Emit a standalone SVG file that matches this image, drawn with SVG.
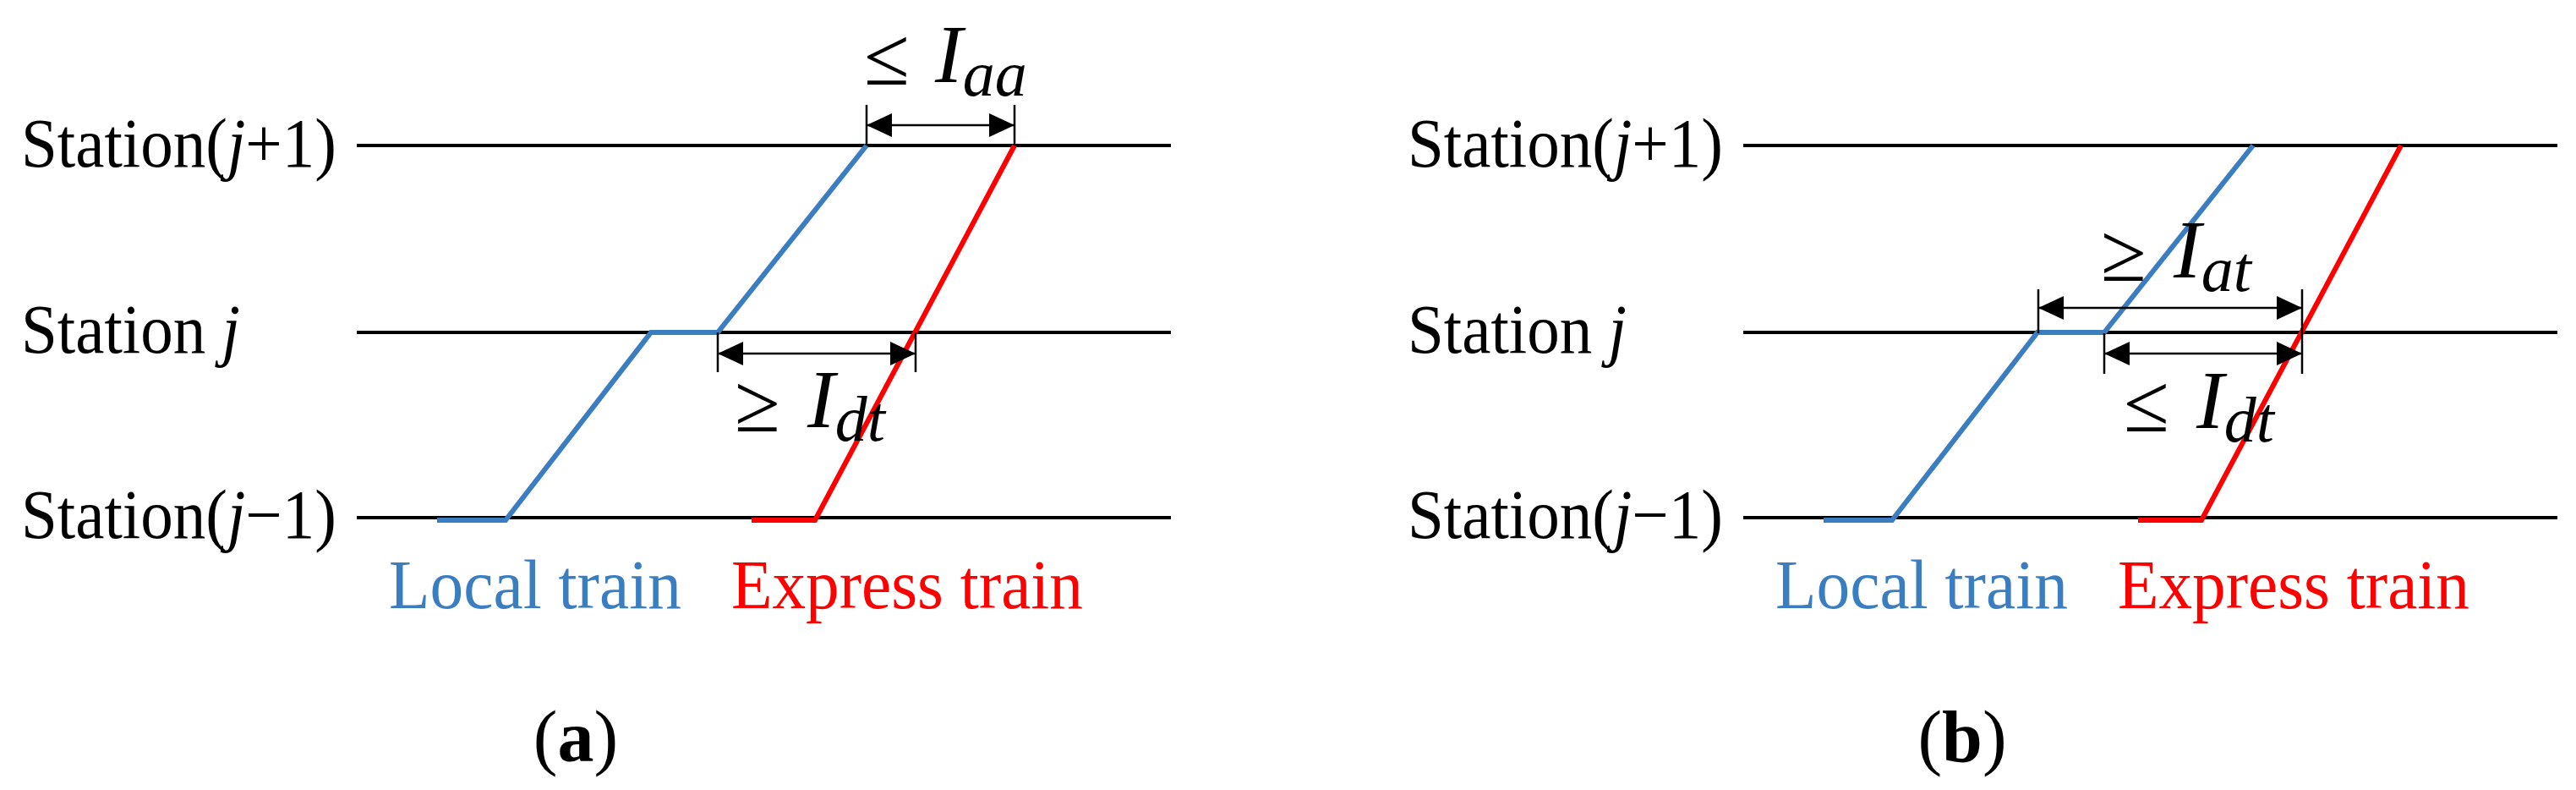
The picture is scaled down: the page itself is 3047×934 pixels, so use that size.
<svg xmlns="http://www.w3.org/2000/svg" width="3047" height="934" viewBox="0 0 3047 934">
<style>
.bg{fill:#ffffff}
.st{stroke:#000;stroke-width:4;fill:none}
.loc{stroke:#3B7DC1;stroke-width:6;fill:none;stroke-linejoin:miter}
.exp{stroke:#FF0000;stroke-width:6;fill:none;stroke-linejoin:miter}
.tick{stroke:#000;stroke-width:2.5;fill:none}
.dim{stroke:#000;stroke-width:2.5;fill:none;marker-start:url(#ah);marker-end:url(#ah)}
.lbl{font-family:"Liberation Serif","Times New Roman",serif;font-size:82px;fill:#000}
.it{font-style:italic}
.leg{font-family:"Liberation Serif","Times New Roman",serif;font-size:82px}
.lb{fill:#3B7DC1}
.lr{fill:#FF0000}
.rel{font-family:"Liberation Serif","Times New Roman",serif;font-size:98px;fill:#000}
.mi{font-family:"Liberation Serif","Times New Roman",serif;font-size:98px;font-style:italic;fill:#000}
.sub{font-size:76px}
.cap{font-family:"Liberation Serif","Times New Roman",serif;font-size:86px;fill:#000}
</style>
<defs>
<marker id="ah" viewBox="0 0 30 28" refX="30" refY="14" markerWidth="30" markerHeight="28" markerUnits="userSpaceOnUse" orient="auto-start-reverse">
<path d="M0,0 L30,14 L0,28 Z" fill="#000"/>
</marker>
</defs>
<rect class="bg" x="0" y="0" width="3047" height="934"/>

<!-- Panel (a) -->
<g id="panel-a">
  <g id="a-stations">
    <g id="a-station-j1"><line class="st" x1="422" y1="172" x2="1385" y2="172"/><text class="lbl" x="25" y="197" textLength="373" lengthAdjust="spacingAndGlyphs">Station(<tspan class="it">j</tspan>+1)</text></g>
    <g id="a-station-j"><line class="st" x1="422" y1="393" x2="1385" y2="393"/><text class="lbl" x="25" y="417" textLength="259" lengthAdjust="spacingAndGlyphs">Station <tspan class="it">j</tspan></text></g>
    <g id="a-station-j0"><line class="st" x1="422" y1="612" x2="1385" y2="612"/><text class="lbl" x="25" y="636" textLength="373" lengthAdjust="spacingAndGlyphs">Station(<tspan class="it">j</tspan>−1)</text></g>
  </g>
  <g id="a-local-train"><polyline class="loc" points="517,615 598,615 770,393 849,393 1025,172"/></g>
  <g id="a-express-train"><polyline class="exp" points="889,615 964,615 1200,172"/></g>
  <g id="a-label-aa">
    <text class="rel" x="1022" y="100">≤</text>
    <text class="mi" x="1106" y="97">I<tspan class="sub" dy="16">aa</tspan></text>
  </g>
  <g id="a-label-dt">
    <text class="rel" x="869" y="510">≥</text>
    <text class="mi" x="955" y="505">I<tspan class="sub" dy="16">dt</tspan></text>
  </g>
  <g id="a-legend">
    <text class="leg lb" x="460" y="719" textLength="346" lengthAdjust="spacingAndGlyphs">Local train</text>
    <text class="leg lr" x="865" y="719" textLength="416" lengthAdjust="spacingAndGlyphs">Express train</text>
  </g>
  <g id="a-caption"><text class="cap" x="681" y="900" text-anchor="middle">(<tspan font-weight="bold">a</tspan>)</text></g>
</g>

<!-- Panel (b) -->
<g id="panel-b">
  <g id="b-stations">
    <g id="b-station-j1"><line class="st" x1="2062" y1="172" x2="3025" y2="172"/><text class="lbl" x="1665" y="197" textLength="373" lengthAdjust="spacingAndGlyphs">Station(<tspan class="it">j</tspan>+1)</text></g>
    <g id="b-station-j"><line class="st" x1="2062" y1="393" x2="3025" y2="393"/><text class="lbl" x="1665" y="417" textLength="259" lengthAdjust="spacingAndGlyphs">Station <tspan class="it">j</tspan></text></g>
    <g id="b-station-j0"><line class="st" x1="2062" y1="612" x2="3025" y2="612"/><text class="lbl" x="1665" y="636" textLength="373" lengthAdjust="spacingAndGlyphs">Station(<tspan class="it">j</tspan>−1)</text></g>
  </g>
  <g id="b-local-train"><polyline class="loc" points="2157,615 2238,615 2410,393 2489,393 2665,172"/></g>
  <g id="b-express-train"><polyline class="exp" points="2529,615 2604,615 2840,172"/></g>
  <g id="b-label-at">
    <text class="rel" x="2485" y="332">≥</text>
    <text class="mi" x="2571" y="328">I<tspan class="sub" dy="16">at</tspan></text>
  </g>
  <g id="b-label-dt">
    <text class="rel" x="2512" y="510">≤</text>
    <text class="mi" x="2598" y="506">I<tspan class="sub" dy="16">dt</tspan></text>
  </g>
  <g id="b-legend">
    <text class="leg lb" x="2100" y="719" textLength="346" lengthAdjust="spacingAndGlyphs">Local train</text>
    <text class="leg lr" x="2505" y="719" textLength="416" lengthAdjust="spacingAndGlyphs">Express train</text>
  </g>
  <g id="b-caption"><text class="cap" x="2321" y="900" text-anchor="middle">(<tspan font-weight="bold">b</tspan>)</text></g>
</g>

<!-- Dimension connectors -->
<g id="connectors">
  <line class="tick" x1="1025" y1="124" x2="1025" y2="172"/>
  <line class="tick" x1="1200" y1="124" x2="1200" y2="172"/>
  <line class="dim" x1="1025" y1="148" x2="1200" y2="148"/>

  <line class="tick" x1="849" y1="393" x2="849" y2="440"/>
  <line class="tick" x1="1083" y1="393" x2="1083" y2="440"/>
  <line class="dim" x1="849" y1="418" x2="1083" y2="418"/>

  <line class="tick" x1="2411" y1="342" x2="2411" y2="394"/>
  <line class="tick" x1="2723" y1="342" x2="2723" y2="394"/>
  <line class="dim" x1="2411" y1="364" x2="2723" y2="364"/>

  <line class="tick" x1="2489" y1="394" x2="2489" y2="442"/>
  <line class="tick" x1="2723" y1="394" x2="2723" y2="442"/>
  <line class="dim" x1="2489" y1="418" x2="2723" y2="418"/>
</g>
</svg>
